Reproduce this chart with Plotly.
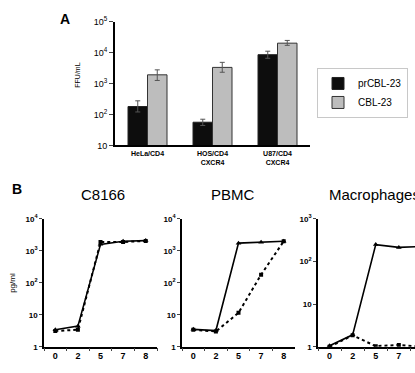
import plotly.graph_objects as go

# ---------------- Panel A data ----------------
cells = ["HeLa/CD4", "HOS/CD4<br>CXCR4", "U87/CD4<br>CXCR4"]
pr_ffu = [180, 56, 8500]
pr_err_plus = [95, 14, 2500]
pr_err_minus = [60, 12, 2000]
cbl_ffu = [1900, 3300, 20000]
cbl_err_plus = [850, 1500, 4500]
cbl_err_minus = [650, 1000, 3000]

yA_ticks = [10, 100, 1000, 10000, 100000]
yA_text = ["10", "10<sup>2</sup>", "10<sup>3</sup>", "10<sup>4</sup>", "10<sup>5</sup>"]

# ---------------- Panel B data ----------------
days = ["0", "2", "5", "7", "8"]
c8166_solid = [3.4, 4.4, 1600, 2000, 2100]
c8166_dashed = [3.1, 3.4, 1900, 1900, 2050]
pbmc_solid = [3.5, 3.2, 1750, 1850, 2000]
pbmc_dashed = [3.4, 3.0, 11.5, 180, 2000]
mac_solid = [1.05, 1.9, 250, 215, 225]
mac_dashed = [1.0, 1.85, 1.03, 1.1, 1.0]

yB_ticks = [1, 10, 100, 1000, 10000]
yB_text = ["1", "10", "10<sup>2</sup>", "10<sup>3</sup>", "10<sup>4</sup>"]

W, H = 415, 373
FONT = "Liberation Sans, Arial, Helvetica, sans-serif"


def px(x):
    return x / W


def py(y):
    return 1 - y / H


fig = go.Figure()

fig.add_trace(go.Bar(
    x=cells, y=pr_ffu, name="prCBL-23",
    marker=dict(color="#0d0d0d", line=dict(color="#222", width=1)),
    error_y=dict(type="data", array=pr_err_plus, arrayminus=pr_err_minus,
                 color="#555", thickness=1, width=2.5),
    xaxis="x", yaxis="y",
))
fig.add_trace(go.Bar(
    x=cells, y=cbl_ffu, name="CBL-23",
    marker=dict(color="#bdbdbd", line=dict(color="#333", width=1)),
    error_y=dict(type="data", array=cbl_err_plus, arrayminus=cbl_err_minus,
                 color="#555", thickness=1, width=2.5),
    xaxis="x", yaxis="y",
))

panels = [
    (c8166_solid, c8166_dashed, "x2", "y2"),
    (pbmc_solid, pbmc_dashed, "x3", "y3"),
    (mac_solid, mac_dashed, "x4", "y4"),
]
for solid, dashed, xa, ya in panels:
    fig.add_trace(go.Scatter(
        x=days, y=dashed, mode="lines+markers", showlegend=False,
        line=dict(color="black", width=2, dash="dot"),
        marker=dict(symbol="square", size=4, color="black"),
        xaxis=xa, yaxis=ya,
    ))
    fig.add_trace(go.Scatter(
        x=days, y=solid, mode="lines+markers", showlegend=False,
        line=dict(color="black", width=1.6),
        marker=dict(symbol="triangle-up", size=5, color="black"),
        xaxis=xa, yaxis=ya,
    ))

axis_common = dict(showline=True, linecolor="black", showgrid=False, zeroline=False)

layout = dict(
    width=W, height=H,
    margin=dict(l=0, r=0, t=0, b=0),
    paper_bgcolor="white", plot_bgcolor="white",
    font=dict(family=FONT, color="black"),
    barmode="group", bargap=0.4, bargroupgap=0,
    showlegend=True,
    legend=dict(x=px(317), y=py(63), xanchor="left", yanchor="top",
                bordercolor="#c8c8c8", borderwidth=1, bgcolor="white",
                font=dict(size=10, family=FONT), itemwidth=30,
                tracegroupgap=0),
    xaxis=dict(domain=[px(115), px(310)], anchor="y", type="category",
               range=[-0.5, 2.5], ticks="", linewidth=2,
               tickfont=dict(size=7, weight="bold"), **axis_common),
    yaxis=dict(domain=[py(143), py(15)], anchor="x", type="log",
               range=[1, 5], tickvals=yA_ticks, ticktext=yA_text,
               ticks="outside", ticklen=4, linewidth=2,
               tickfont=dict(size=9), **axis_common),
)

b_x = [(44, 157, [-0.5, 4.5]), (182, 295, [-0.5, 4.5]), (318, 415, [-0.5, 3.7])]
b_yr = [[0, 4], [0, 4], [0, 3]]
for i, ((x0, x1, xr), yr) in enumerate(zip(b_x, b_yr)):
    n = i + 2
    layout[f"xaxis{n}"] = dict(
        domain=[px(x0), px(x1)], anchor=f"y{n}", type="category",
        categoryorder="array", categoryarray=days, range=xr,
        tickson="boundaries", ticks="outside", ticklen=3, linewidth=1.5,
        tickfont=dict(size=9, weight="bold"), **axis_common)
    layout[f"yaxis{n}"] = dict(
        domain=[py(351), py(219)], anchor=f"x{n}", type="log", range=yr,
        tickvals=yB_ticks, ticktext=yB_text, ticks="outside", ticklen=3,
        linewidth=1.5, tickfont=dict(size=8, weight="bold"), **axis_common)

fig.update_layout(**layout)

ann = [
    dict(text="<b>A</b>", x=px(65), y=py(12), font=dict(size=14)),
    dict(text="<b>B</b>", x=px(17), y=py(188), font=dict(size=14)),
    dict(text="C8166", x=px(103), y=py(194), font=dict(size=15)),
    dict(text="PBMC", x=px(233), y=py(194), font=dict(size=15)),
    dict(text="Macrophages", x=px(327), y=py(194), xanchor="left", font=dict(size=15)),
    dict(text="FFU/mL", x=px(78), y=py(71), textangle=-90, font=dict(size=7)),
    dict(text="pg/ml", x=px(13), y=py(285), textangle=-90, font=dict(size=8)),
]
for a in ann:
    a.setdefault("xanchor", "center")
    fig.add_annotation(xref="paper", yref="paper", showarrow=False,
                       yanchor="middle", **a)

fig.write_html("out.html")
